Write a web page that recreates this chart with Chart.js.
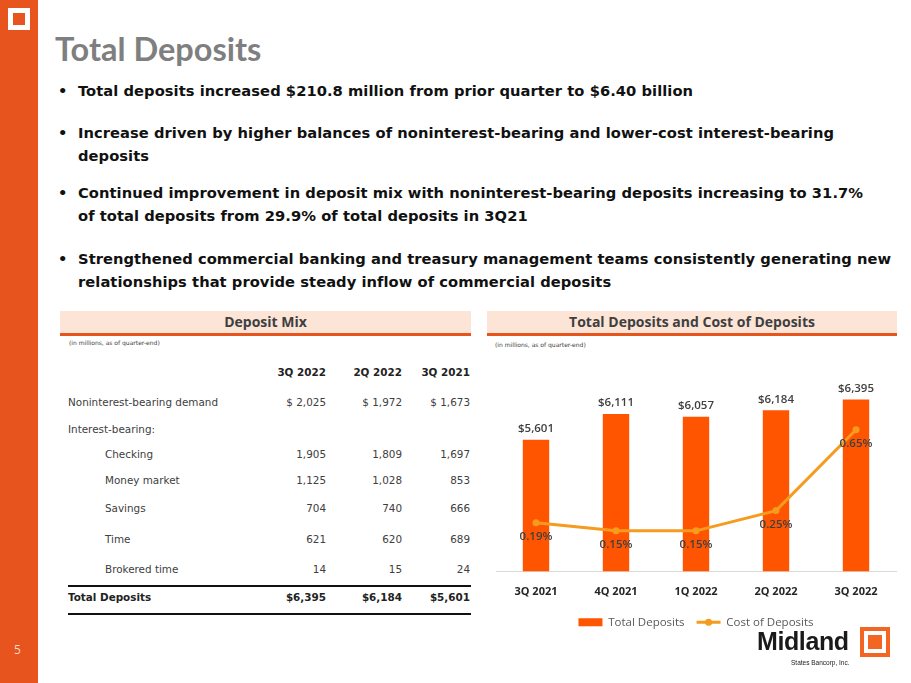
<!DOCTYPE html>
<html>
<head>
<meta charset="utf-8">
<script src="https://cdn.jsdelivr.net/npm/chart.js@4/dist/chart.umd.min.js"></script>
<style>
  html, body { margin: 0; padding: 0; }
  body { width: 911px; height: 683px; position: relative; overflow: hidden; background: #fff; font-family: "DejaVu Sans", sans-serif; }
  .abs { position: absolute; white-space: nowrap; }
  #sidebar { left: 0; top: 0; width: 38px; height: 683px; background: #E8541E; }
  #icon { left: 8px; top: 8px; width: 22px; height: 22px; background: #fff; }
  #icon div { position: absolute; left: 5px; top: 5px; width: 12px; height: 12px; background: #E8541E; }
  #pageno { left: 14px; top: 641px; color: #fbd9c6; font: 12px "Open Sans", sans-serif; }
  #title { left: 55px; top: 29px; color: #7f7f7f; font: bold 32.5px Lato, sans-serif; }
  .bullet { left: 78px; font: bold 14.7px "DejaVu Sans", sans-serif; color: #111; line-height: 23px; letter-spacing: 0.05px; }
  .bullet::before { content: "\2022"; position: absolute; left: -20px; }
  .band { top: 311px; height: 22px; background: #FCE4D6; border-bottom: 3px solid #E8541E; text-align: center;
          font: bold 14px "Open Sans", sans-serif; color: #3f3f3f; line-height: 22px; }
  .sub { font: 6px "DejaVu Sans", sans-serif; color: #404040; }
  .row { left: 68px; width: 403px; height: 20px; line-height: 20px; font: 10.4px "DejaVu Sans", sans-serif; color: #404040; }
  .row span { position: absolute; top: 0; text-align: right; }
  .row .c0 { right: 145px; } .row .c1 { right: 69px; } .row .c2 { right: 1px; }
  .row.hdr, .row.tot { font-weight: bold; color: #222; }
  .rule { left: 68px; width: 403px; height: 2px; background: #111; }
  #chartBox { left: 487px; top: 350px; width: 413px; height: 288px; }
  #logo { left: 757px; top: 627px; font: bold 25px "Liberation Sans", Arial, sans-serif; color: #1a1a1a; letter-spacing: -0.4px; }
  #logoSub { left: 791px; top: 659px; font: 6.5px "Liberation Sans", Arial, sans-serif; color: #1a1a1a; }
  #logoSq { left: 860px; top: 627px; width: 22px; height: 22px; border: 4px solid #F26522; background: #fff; }
  #logoSq div { position: absolute; left: 4px; top: 4px; width: 14px; height: 14px; background: #F26522; }
</style>
</head>
<body>
<div id="sidebar" class="abs"></div>
<div id="icon" class="abs"><div></div></div>
<div id="pageno" class="abs">5</div>
<div id="title" class="abs">Total Deposits</div>

<div class="abs bullet" style="top:79px">Total deposits increased $210.8 million from prior quarter to $6.40 billion</div>
<div class="abs bullet" style="top:121px">Increase driven by higher balances of noninterest-bearing and lower-cost interest-bearing<br>deposits</div>
<div class="abs bullet" style="top:181px">Continued improvement in deposit mix with noninterest-bearing deposits increasing to 31.7%<br>of total deposits from 29.9% of total deposits in 3Q21</div>
<div class="abs bullet" style="top:247px">Strengthened commercial banking and treasury management teams consistently generating new<br>relationships that provide steady inflow of commercial deposits</div>

<div class="abs band" style="left:60px;width:411px">Deposit Mix</div>
<div class="abs sub" style="left:69px;top:339px">(in millions, as of quarter-end)</div>
<div class="abs band" style="left:487px;width:410px">Total Deposits and Cost of Deposits</div>
<div class="abs sub" style="left:495px;top:341px">(in millions, as of quarter-end)</div>

<div id="mixTable"></div>

<div id="chartBox" class="abs"><canvas id="depChart"></canvas></div>

<div id="logo" class="abs">Midland</div>
<div id="logoSub" class="abs">States Bancorp, Inc.</div>
<div id="logoSq" class="abs"><div></div></div>

<script>
// ---- Deposit mix table data ----
const mixPeriods = ['3Q 2022', '2Q 2022', '3Q 2021'];
const mixLabels = ['Noninterest-bearing demand', 'Interest-bearing:', 'Checking', 'Money market', 'Savings', 'Time', 'Brokered time'];
const mixIndent = [false, false, true, true, true, true, true];
const mix3Q22 = ['$ 2,025', '', '1,905', '1,125', '704', '621', '14'];
const mix2Q22 = ['$ 1,972', '', '1,809', '1,028', '740', '620', '15'];
const mix3Q21 = ['$ 1,673', '', '1,697', '853', '666', '689', '24'];
const mixTotals = ['$6,395', '$6,184', '$5,601'];

// ---- Chart data ----
const quarters = ['3Q 2021', '4Q 2021', '1Q 2022', '2Q 2022', '3Q 2022'];
const totalDeposits = [5601, 6111, 6057, 6184, 6395];
const costOfDeposits = [0.19, 0.15, 0.15, 0.25, 0.65];

/* ------------------------------------------------------------
   TABLE
   ------------------------------------------------------------ */
const ROW_Y = [396, 423, 448, 474, 502, 533, 563]; // row tops (page px)
(function buildTable() {
    const host = document.getElementById('mixTable');
    let html = `<div class="abs row hdr" style="top:366px"><span class="c0">${mixPeriods[0]}</span><span class="c1">${mixPeriods[1]}</span><span class="c2">${mixPeriods[2]}</span></div>`;
    mixLabels.forEach((lab, i) => {
        html += `<div class="abs row" style="top:${ROW_Y[i]}px"><span style="left:${mixIndent[i] ? 37 : 0}px">${lab}</span>` +
            `<span class="c0">${mix3Q22[i]}</span><span class="c1">${mix2Q22[i]}</span><span class="c2">${mix3Q21[i]}</span></div>`;
    });
    html += `<div class="abs rule" style="top:585px"></div>`;
    html += `<div class="abs row tot" style="top:591px"><span style="left:0">Total Deposits</span><span class="c0">${mixTotals[0]}</span><span class="c1">${mixTotals[1]}</span><span class="c2">${mixTotals[2]}</span></div>`;
    html += `<div class="abs rule" style="top:613px"></div>`;
    host.innerHTML = html;
})();

/* ------------------------------------------------------------
   CHART
   ------------------------------------------------------------ */
const BAR_COLOR = '#FF5500';
const LINE_COLOR = '#F59B1E';
const LABEL_FONT = '"Open Sans", sans-serif';

// value labels + legend marker dot
const labelPlugin = {
    id: 'valueLabels',
    afterDatasetsDraw(chart) {
        const ctx = chart.ctx;
        ctx.save();
        ctx.font = `600 11.5px ${LABEL_FONT}`;
        ctx.fillStyle = '#404040';
        ctx.textAlign = 'center';
        chart.getDatasetMeta(0).data.forEach((el, i) => {
            ctx.textBaseline = 'bottom';
            ctx.fillText('$' + totalDeposits[i].toLocaleString('en-US'), el.x, el.y - 5);
        });
        chart.getDatasetMeta(1).data.forEach((el, i) => {
            ctx.textBaseline = 'middle';
            ctx.fillText(costOfDeposits[i].toFixed(2) + '%', el.x, el.y + 14);
        });
        ctx.restore();
    },
    afterDraw(chart) {
        const lg = chart.legend;
        if (!lg || !lg.legendHitBoxes[1]) return;
        const hb = lg.legendHitBoxes[1];
        const ctx = chart.ctx;
        ctx.save();
        ctx.fillStyle = LINE_COLOR;
        ctx.beginPath();
        ctx.arc(hb.left + 12, hb.top + hb.height / 2, 3.5, 0, Math.PI * 2);
        ctx.fill();
        ctx.restore();
    }
};

new Chart(document.getElementById('depChart'), {
    data: {
        labels: quarters,
        datasets: [
            {
                type: 'bar',
                label: 'Total Deposits',
                data: totalDeposits,
                backgroundColor: BAR_COLOR,
                yAxisID: 'y',
                categoryPercentage: 1,
                barPercentage: 0.33,
                order: 2
            },
            {
                type: 'line',
                label: 'Cost of Deposits',
                data: costOfDeposits,
                borderColor: LINE_COLOR,
                backgroundColor: LINE_COLOR,
                borderWidth: 3,
                pointRadius: 3.5,
                pointBackgroundColor: LINE_COLOR,
                pointBorderWidth: 0,
                tension: 0,
                yAxisID: 'y2',
                order: 1
            }
        ]
    },
    options: {
        responsive: true,
        maintainAspectRatio: false,
        animation: false,
        layout: { padding: { left: 9, right: 4, top: 19, bottom: 0 } },
        plugins: {
            tooltip: { enabled: false },
            legend: {
                position: 'bottom',
                labels: {
                    usePointStyle: true,
                    pointStyleWidth: 24,
                    boxHeight: 8,
                    padding: 12,
                    color: '#595959',
                    font: { size: 11.5, family: LABEL_FONT },
                    generateLabels(chart) {
                        return chart.data.datasets.map((ds, i) => ({
                            text: ds.label,
                            datasetIndex: i,
                            fillStyle: i === 0 ? BAR_COLOR : 'rgba(0,0,0,0)',
                            strokeStyle: i === 0 ? BAR_COLOR : LINE_COLOR,
                            lineWidth: i === 0 ? 0 : 3,
                            pointStyle: i === 0 ? 'rect' : 'line',
                            fontColor: '#595959',
                            hidden: false
                        }));
                    }
                }
            }
        },
        scales: {
            x: {
                grid: { display: false },
                border: { display: true, color: '#d9d9d9', width: 1 },
                ticks: { color: '#262626', font: { size: 11, weight: 'bold', family: LABEL_FONT }, padding: 6 }
            },
            y: { display: false, min: 3000, max: 7000 },
            y2: { display: false, min: -0.05, max: 0.95 }
        }
    },
    plugins: [labelPlugin]
});
</script>
</body>
</html>
